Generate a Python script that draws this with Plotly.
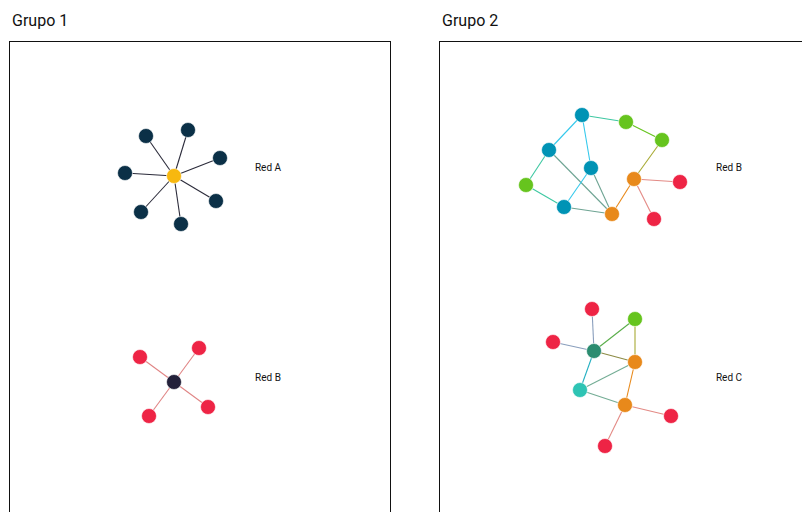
import plotly.graph_objects as go

# ---------- data ----------
group_titles = ["Grupo 1", "Grupo 2"]
network_labels = ["Red A", "Red B", "Red B", "Red C"]

# Group 1, Red A (layout coordinates)
g1a_x = [174, 146, 188, 220, 125, 216, 141, 181]
g1a_y = [176, 136, 130, 158, 173, 201, 212, 224]
g1a_kind = ["hub", "n", "n", "n", "n", "n", "n", "n"]
g1a_edges = [(0, 1), (0, 2), (0, 3), (0, 4), (0, 5), (0, 6), (0, 7)]

# Group 1, Red B
g1b_x = [174, 140, 199, 208, 149]
g1b_y = [382, 357, 348, 407, 416]
g1b_kind = ["hub2", "red", "red", "red", "red"]
g1b_edges = [(0, 1), (0, 2), (0, 3), (0, 4)]

# Group 2, Red B
g2b_x = [582, 626, 662, 549, 591, 526, 634, 680, 564, 612, 654]
g2b_y = [115, 122, 140, 150, 168, 185, 179, 182, 207, 214, 219]
g2b_kind = ["blue", "green", "green", "blue", "blue", "green", "orange", "red", "blue", "orange", "red"]
g2b_edges = [(0, 1), (1, 2), (0, 3), (0, 4), (3, 5), (3, 9), (4, 8), (4, 9),
             (5, 8), (8, 9), (9, 6), (6, 2), (6, 7), (6, 10)]

# Group 2, Red C
g2c_x = [592, 635, 553, 594, 635, 580, 625, 671, 605]
g2c_y = [309, 319, 342, 351, 362, 390, 405, 416, 446]
g2c_kind = ["red", "green", "red", "dgreen", "orange", "teal", "orange", "red", "red"]
g2c_edges = [(0, 3), (2, 3), (3, 1), (3, 4), (1, 4), (3, 5), (5, 4), (5, 6),
             (4, 6), (6, 7), (6, 8)]

label_x = [268, 268, 729, 729]
label_y = [168, 378, 168, 378]

# ---------- style ----------
node_colors = {"hub": "#f7b80f", "n": "#0b3047", "hub2": "#23213a", "red": "#ee2445",
               "blue": "#0093b5", "green": "#66c41e", "orange": "#e8891b",
               "dgreen": "#2b8c70", "teal": "#2ec4b4"}
edge_colors = {
    ("hub", "n"): "#2b2b3a", ("hub2", "red"): "#e08585",
    ("blue", "blue"): "#35c9ec", ("blue", "green"): "#3ec8a2",
    ("blue", "orange"): "#6ea493", ("green", "green"): "#66c41e",
    ("green", "orange"): "#a8aa34", ("orange", "orange"): "#e8891b",
    ("orange", "red"): "#e38a85", ("dgreen", "red"): "#8a9fbd",
    ("dgreen", "green"): "#5aae4a", ("dgreen", "orange"): "#8c8b45",
    ("dgreen", "teal"): "#25b0c2", ("orange", "teal"): "#74ad95",
}


def edge_color(a, b):
    return edge_colors.get((a, b)) or edge_colors.get((b, a)) or "#888888"


fig = go.Figure()


def add_network(xs, ys, kinds, edges, xa, ya):
    for i, j in edges:
        fig.add_trace(go.Scatter(x=[xs[i], xs[j]], y=[ys[i], ys[j]], mode="lines",
                                 line=dict(color=edge_color(kinds[i], kinds[j]), width=1.1),
                                 hoverinfo="skip", showlegend=False, xaxis=xa, yaxis=ya))
    fig.add_trace(go.Scatter(x=xs, y=ys, mode="markers",
                             marker=dict(size=15, color=[node_colors[k] for k in kinds],
                                         line=dict(width=0.6, color="white")),
                             showlegend=False, xaxis=xa, yaxis=ya))


add_network(g1a_x, g1a_y, g1a_kind, g1a_edges, "x", "y")
add_network(g1b_x, g1b_y, g1b_kind, g1b_edges, "x", "y")
add_network(g2b_x, g2b_y, g2b_kind, g2b_edges, "x2", "y2")
add_network(g2c_x, g2c_y, g2c_kind, g2c_edges, "x2", "y2")

for k, (lx, ly, lt) in enumerate(zip(label_x, label_y, network_labels)):
    fig.add_trace(go.Scatter(x=[lx], y=[ly], mode="text", text=[lt],
                             textfont=dict(size=10, color="#111111", family="Roboto"),
                             showlegend=False, hoverinfo="skip",
                             xaxis="x" if k < 2 else "x2", yaxis="y" if k < 2 else "y2"))

# page body margin offsets the figure by 8px
OFF = 8
W, H = 810 - OFF, 512 - OFF
top = 42 - OFF
axis_common = dict(showgrid=False, zeroline=False, showticklabels=False, ticks="")
fig.update_layout(
    width=W, height=H, margin=dict(l=0, r=0, t=0, b=0),
    paper_bgcolor="white", plot_bgcolor="white",
    xaxis=dict(domain=[(10 - OFF) / W, (390 - OFF) / W], range=[10, 390], showline=True, side="top",
               linecolor="#111111", linewidth=1, **axis_common),
    yaxis=dict(domain=[0, 1 - top / H], range=[512, 42], showline=True, mirror=True,
               linecolor="#111111", linewidth=1, anchor="x", **axis_common),
    xaxis2=dict(domain=[(440 - OFF) / W, 1], range=[440, 810], showline=True, side="top",
                linecolor="#111111", linewidth=1, anchor="y2", **axis_common),
    yaxis2=dict(domain=[0, 1 - top / H], range=[512, 42], showline=True, mirror=False,
                linecolor="#111111", linewidth=1, anchor="x2", **axis_common),
    annotations=[
        dict(text=group_titles[0], x=(10 - OFF) / W, y=1 - (20 - OFF) / H, xref="paper", yref="paper",
             xanchor="left", yanchor="middle", showarrow=False,
             font=dict(size=16, color="#111111", family="Roboto")),
        dict(text=group_titles[1], x=(440 - OFF) / W, y=1 - (20 - OFF) / H, xref="paper", yref="paper",
             xanchor="left", yanchor="middle", showarrow=False,
             font=dict(size=16, color="#111111", family="Roboto")),
    ],
)

fig.write_html("out.html")
